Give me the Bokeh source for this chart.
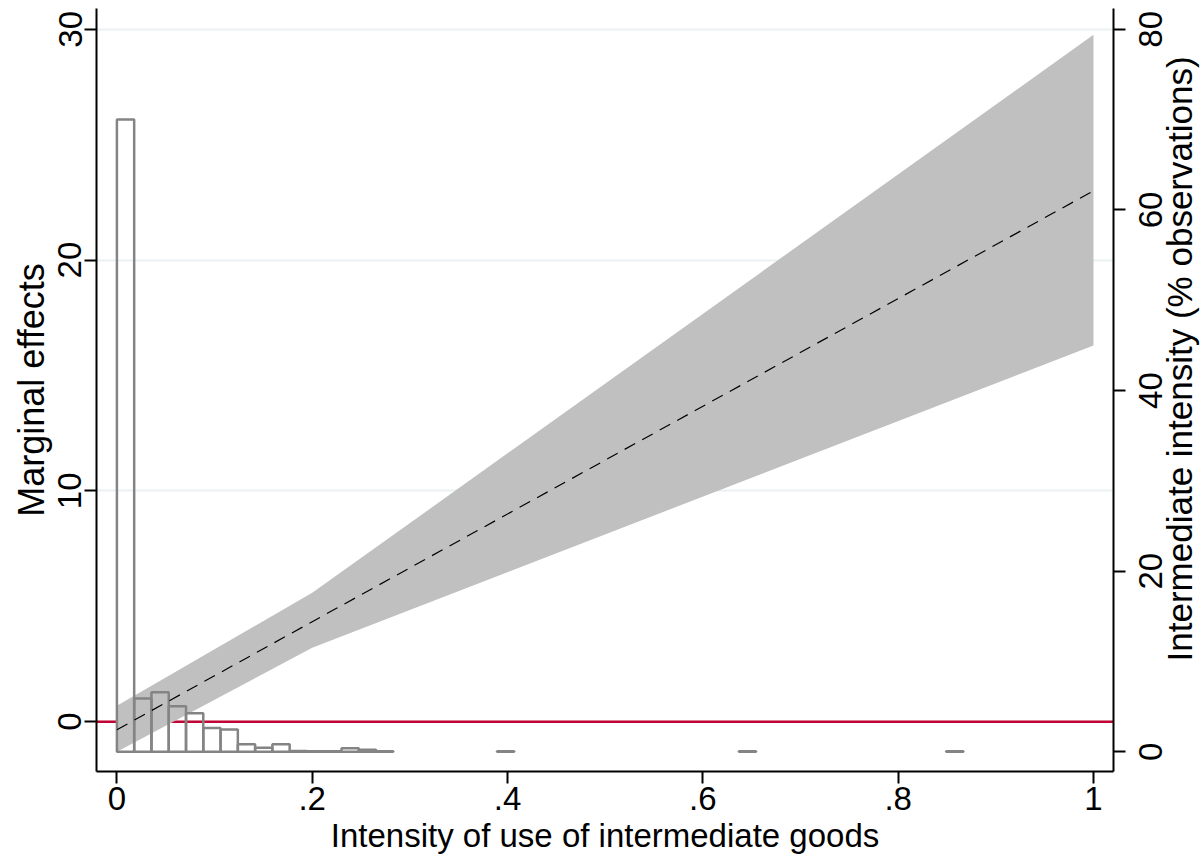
import math
from bokeh.plotting import figure
from bokeh.layouts import row
from bokeh.models import Range1d, LinearAxis, FixedTicker, Span, ColumnDataSource
from bokeh.core.properties import value
from bokeh.embed import file_html
from bokeh.resources import INLINE

# ---- data ----
x_ticks = [0, 0.2, 0.4, 0.6, 0.8, 1.0]
x_tick_labels = ["0", ".2", ".4", ".6", ".8", "1"]
left_ticks = [0, 10, 20, 30]
right_ticks = [0, 20, 40, 60, 80]
right_tick_labels = ["0", "20", "40", "60", "80"]

me_x = [0.0, 0.2, 1.0]
me_upper = [0.69, 5.58, 29.76]
me_lower = [-1.30, 3.20, 16.30]
me_line_x = [0.0, 0.2, 1.0]
me_line = [-0.35, 4.33, 23.0]

bin_width = 0.01769
hist_bin = [0, 1, 2, 3, 4, 5, 6, 7, 8, 9, 10, 11, 12, 13, 14, 15, 22, 36, 48]
hist_pct = [70.0, 5.9, 6.6, 5.05, 4.27, 2.65, 2.46, 0.84, 0.44, 0.84,
            0.08, 0.06, 0.06, 0.4, 0.22, 0.06, 0.05, 0.05, 0.05]

FONT = "Liberation Sans"
FS = "33px"
FS_YTITLE = "36px"
FS_RTITLE = "35px"

X0, X1 = -0.0209, 1.0205
Y0, Y1 = -2.16, 30.9
P0, P1 = -2.18, 82.3

MAIN_W, SIDE_W, H = 1126, 74, 856
TOP, BOTTOM = 8, 84

pct_range = Range1d(P0, P1)

p = figure(width=MAIN_W, height=H,
           x_range=Range1d(X0, X1), y_range=Range1d(Y0, Y1),
           output_backend="svg", toolbar_location=None,
           min_border_left=96, min_border_right=13, min_border_top=TOP,
           min_border_bottom=BOTTOM)
p.extra_y_ranges = {"pct": pct_range}
p.outline_line_color = None
p.background_fill_color = "white"
p.border_fill_color = "white"

# grid
p.xgrid.visible = False
p.ygrid.ticker = FixedTicker(ticks=left_ticks)
p.ygrid.grid_line_color = "#e9f1f3"
p.ygrid.grid_line_width = 2

# zero reference line (below the band)
p.add_layout(Span(location=0, dimension="width", line_color="#c10534",
                  line_width=2.5, level="underlay"))

# confidence band
band = ColumnDataSource(dict(x=me_x, lo=me_lower, hi=me_upper))
p.varea(x="x", y1="lo", y2="hi", source=band, fill_color="#c0c0c0", fill_alpha=1.0)

# histogram
left = [b * bin_width for b in hist_bin]
right = [(b + 1) * bin_width for b in hist_bin]
hist = ColumnDataSource(dict(left=left, right=right, top=hist_pct, bottom=[0] * len(hist_pct)))
p.quad(left="left", right="right", top="top", bottom="bottom", source=hist,
       y_range_name="pct", fill_color=None, line_color="#848484", line_width=2.5)

# marginal effect line
p.line(me_line_x, me_line, line_color="black", line_width=1.2, line_dash="12 8")

def style_axis(ax):
    ax.axis_line_color = "black"
    ax.axis_line_width = 2
    ax.major_tick_line_color = "black"
    ax.major_tick_line_width = 2
    ax.major_tick_out = 12
    ax.major_tick_in = 0
    ax.minor_tick_line_color = None
    ax.major_label_text_font = FONT
    ax.major_label_text_font_size = FS
    ax.major_label_text_color = "black"
    ax.axis_label_text_font = FONT
    ax.axis_label_text_font_size = FS
    ax.axis_label_text_font_style = "normal"
    ax.axis_label_text_color = "black"

# x axis
xa = p.xaxis[0]
style_axis(xa)
xa.ticker = FixedTicker(ticks=x_ticks)
xa.major_label_overrides = {t: l for t, l in zip(x_ticks, x_tick_labels)}
xa.axis_label = "Intensity of use of intermediate goods"
xa.major_label_standoff = 3
xa.axis_label_standoff = 4

# left axis
ya = p.yaxis[0]
style_axis(ya)
ya.ticker = FixedTicker(ticks=left_ticks)
ya.major_label_orientation = "vertical"
ya.axis_label = "Marginal effects"
ya.axis_label_text_font_size = FS_YTITLE
ya.major_label_standoff = 3
ya.axis_label_standoff = 4

# right axis: line and ticks here, its rotated texts in the side panel
ra = LinearAxis(y_range_name="pct", ticker=FixedTicker(ticks=right_ticks))
style_axis(ra)
ra.major_label_standoff = 0
ra.major_label_overrides = {t: "" for t in right_ticks}
p.add_layout(ra, "right")

# side panel sharing the percentage scale, for the right-axis texts
side = figure(width=SIDE_W, height=H, x_range=Range1d(0, SIDE_W), y_range=pct_range,
              output_backend="svg", toolbar_location=None,
              x_axis_type=None, y_axis_type=None,
              min_border_left=0, min_border_right=0, min_border_top=TOP,
              min_border_bottom=BOTTOM)
side.outline_line_color = None
side.grid.visible = False
side.background_fill_color = "white"
side.border_fill_color = "white"

side.text(x=[24] * len(right_ticks), y=right_ticks, text=right_tick_labels,
          angle=math.pi / 2, text_align="center", text_baseline="middle",
          text_font=value(FONT), text_font_size=FS, text_color="black")
side.text(x=[53], y=[43.5], text=["Intermediate intensity (% observations)"],
          angle=math.pi / 2, text_align="center", text_baseline="middle",
          text_font=value(FONT), text_font_size=FS_RTITLE, text_color="black")

layout = row(p, side, spacing=0)
open("out.html", "w").write(file_html(layout, INLINE))
